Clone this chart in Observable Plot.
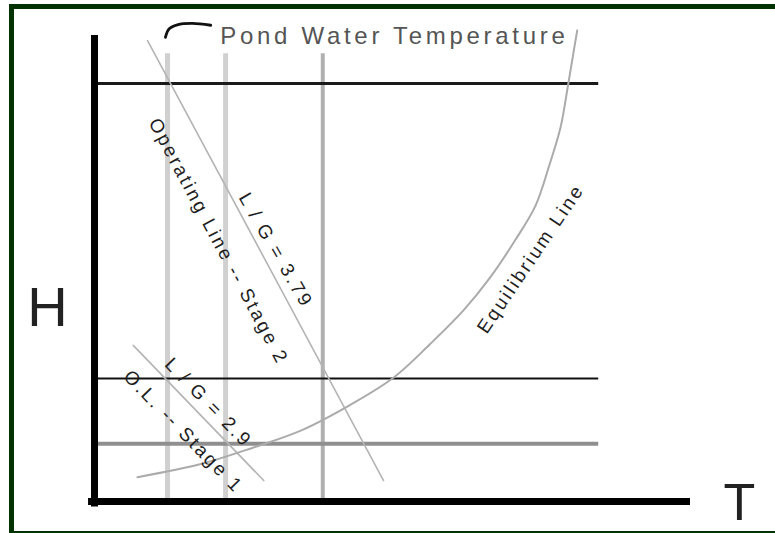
<!DOCTYPE html>
<html><head><meta charset="utf-8">
<script src="https://cdn.jsdelivr.net/npm/d3@7"></script>
<script src="https://cdn.jsdelivr.net/npm/@observablehq/plot@0.6"></script>
<style>
html,body{margin:0;padding:0;background:#fff;}
#wrap{position:relative;width:775px;height:533px;overflow:hidden;background:#fff;}
#frame{position:absolute;left:9px;top:4px;width:800px;height:522px;border-top:5px solid #003300;border-left:5px solid #003300;border-bottom:2px solid #003300;pointer-events:none;}
#chart{position:absolute;left:0;top:0;}
</style></head><body>
<div id="wrap"><div id="chart"></div><div id="frame"></div></div>
<script>
// Diagram coordinates: T (temperature) 0..100, H (enthalpy) 0..100
const pondT = [12.25, 22.0, 38.3];          // vertical pond water temperature lines
const pondTopH = 96.1;
const levelH = [89.7, 26.4, 12.4];           // horizontal enthalpy levels
const levelEndT = 84.6;
const stage2 = [{T: 8.9, H: 98.9}, {T: 48.5, H: 4.5}];     // operating line stage 2
const stage1 = [{T: 6.5, H: 33.5}, {T: 28.4, H: 4.5}];     // operating line stage 1
const equilibriumT = [7.2, 18.3, 26.7, 34.6, 43.0, 50.2, 56.4, 61.9, 66.4, 70.6, 74.0, 76.3, 78.2, 79.5, 80.7, 81.0];
const equilibriumH = [5.2, 8.2, 11.6, 15.2, 20.8, 26.6, 33.9, 41.0, 48.1, 56.1, 63.5, 72.1, 80.3, 89.7, 98.9, 101.1];
const bracketT = [11.9, 12.5, 13.9, 16.4, 19.5];
const bracketH = [99.6, 101.4, 102.3, 102.6, 102.2];
const labels = [
  {text: "Operating Line -- Stage 2", T: 20.8, H: 55.8, angle: 62},
  {text: "L / G = 3.79", T: 30.4, H: 53.9, angle: 60},
  {text: "Equilibrium Line", T: 73.2, H: 52.1, angle: -56},
  {text: "L / G = 2.9", T: 19.1, H: 21.2, angle: 46},
  {text: "O.L. -- Stage 1", T: 14.9, H: 15.0, angle: 46}
];
const titleLabel = {text: "Pond Water Temperature", T: 21.1, H: 99.9};
const axisLabels = [{text: "H", T: -7.9, H: 41.6, size: 56}, {text: "T", T: 108.2, H: -0.4, size: 52}];

const equilibrium = equilibriumT.map((t, i) => ({T: t, H: equilibriumH[i]}));
const bracket = bracketT.map((t, i) => ({T: t, H: bracketH[i]}));

const chart = Plot.plot({
  width: 775, height: 533,
  marginLeft: 94, marginRight: 85, marginTop: 35, marginBottom: 32,
  x: {domain: [0, 100], axis: null},
  y: {domain: [0, 100], axis: null},
  style: {fontFamily: "'Liberation Sans', Arial, sans-serif", background: "transparent"},
  marks: [
    Plot.ruleX(pondT, {x: d => d, y1: 0, y2: pondTopH,
      stroke: (d, i) => i < 2 ? "#d0d0d0" : "#b0b0b0",
      strokeWidth: (d, i) => i < 2 ? 5 : 4}),
    Plot.ruleY([levelH[2]], {y: d => d, x1: 0, x2: levelEndT, stroke: "#8f8f8f", strokeWidth: 4}),
    Plot.ruleY([levelH[0]], {y: d => d, x1: 0, x2: levelEndT, stroke: "#1a1a1a", strokeWidth: 3}),
    Plot.ruleY([levelH[1]], {y: d => d, x1: 0, x2: levelEndT, stroke: "#111", strokeWidth: 2}),
    Plot.line(stage2, {x: "T", y: "H", stroke: "#b4b4b4", strokeWidth: 1.6}),
    Plot.line(stage1, {x: "T", y: "H", stroke: "#b4b4b4", strokeWidth: 1.6}),
    Plot.line(equilibrium, {x: "T", y: "H", curve: "catmull-rom", stroke: "#ababab", strokeWidth: 2}),
    Plot.line(bracket, {x: "T", y: "H", curve: "catmull-rom", stroke: "#111", strokeWidth: 2.8}),
    Plot.ruleX([0], {x: d => d, y1: -1.2, y2: 100, stroke: "#000", strokeWidth: 7}),
    Plot.ruleY([0], {y: d => d, x1: -1, x2: 100, stroke: "#000", strokeWidth: 7}),
    Plot.text(labels, {x: "T", y: "H", text: "text", rotate: "angle", fontSize: 19,
      fill: "#1e1e1e", textAnchor: "middle", lineAnchor: "middle"}),
    Plot.text([titleLabel], {x: "T", y: "H", text: "text", fontSize: 24, fill: "#555",
      textAnchor: "start", lineAnchor: "middle"}),
    Plot.text(axisLabels, {x: "T", y: "H", text: "text", fontSize: d => d.size, fill: "#222",
      fontWeight: 300, textAnchor: "middle", lineAnchor: "middle"})
  ]
});
d3.select(chart).selectAll("text").style("letter-spacing", function() {
  const t = this.textContent;
  if (t === "Pond Water Temperature") return "3.7px";
  if (t === "H" || t === "T") return "0px";
  return "2.5px";
});
document.getElementById("chart").appendChild(chart);
</script>
</body></html>
